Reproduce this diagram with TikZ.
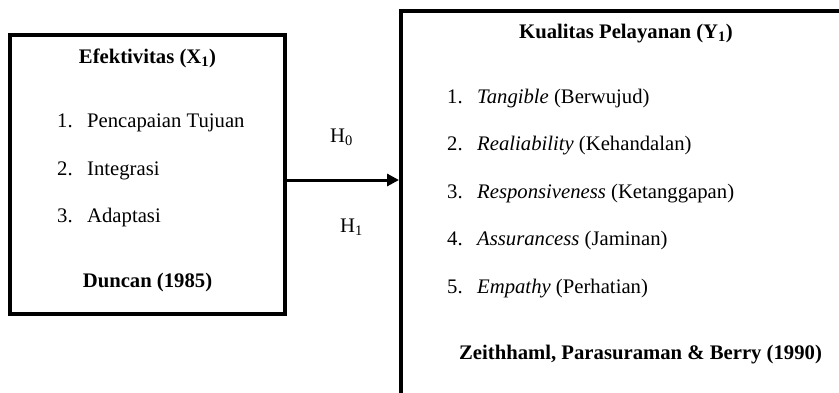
\documentclass[tikz,border=0pt]{standalone}
\usepackage{fontspec}
\setmainfont{Liberation Serif}
\usetikzlibrary{arrows.meta}

\begin{document}
\begin{tikzpicture}[x=1pt,y=-1pt,
  every node/.style={font=\fontsize{20.7}{24}\selectfont,inner sep=0pt},
  box/.style={draw,line width=4pt},
  item/.style={anchor=base west}]
\useasboundingbox (0,0) rectangle (839,392);

\node[box,minimum width=275pt,minimum height=279.5pt](X) at (147.5,174.25){};
\node[box,minimum width=500pt,minimum height=450pt](Y) at (651,236){};

\node[anchor=base](XT) at (147.5,63){\textbf{Efektivitas (X\textsubscript{1})}};
\node[item](X1) at (57,127){\makebox[30pt][l]{1.}Pencapaian Tujuan};
\node[item](X2) at (57,175){\makebox[30pt][l]{2.}Integrasi};
\node[item](X3) at (57,222){\makebox[30pt][l]{3.}Adaptasi};
\node[anchor=base](XS) at (147.5,287){\textbf{Duncan (1985)}};

\node[anchor=base](YT) at (626,38){\textbf{Kualitas Pelayanan (Y\textsubscript{1})}};
\node[item](Y1) at (447,103){\makebox[30pt][l]{1.}\textit{Tangible} (Berwujud)};
\node[item](Y2) at (447,150){\makebox[30pt][l]{2.}\textit{Realiability} (Kehandalan)};
\node[item](Y3) at (447,198){\makebox[30pt][l]{3.}\textit{Responsiveness} (Ketanggapan)};
\node[item](Y4) at (447,245){\makebox[30pt][l]{4.}\textit{Assurancess} (Jaminan)};
\node[item](Y5) at (447,293){\makebox[30pt][l]{5.}\textit{Empathy} (Perhatian)};
\node[anchor=base](YS) at (640.5,359){\textbf{Zeithhaml, Parasuraman \& Berry (1990)}};

\node[item](H0) at (330,142){H\textsubscript{0}};
\node[item](H1) at (340,232){H\textsubscript{1}};

\draw[line width=3pt,-{Triangle[length=12pt,width=12pt]}]([yshift=-5.75pt]X.east) -- ([yshift=-5.75pt]X.east -| Y.west);

\end{tikzpicture}
\end{document}
